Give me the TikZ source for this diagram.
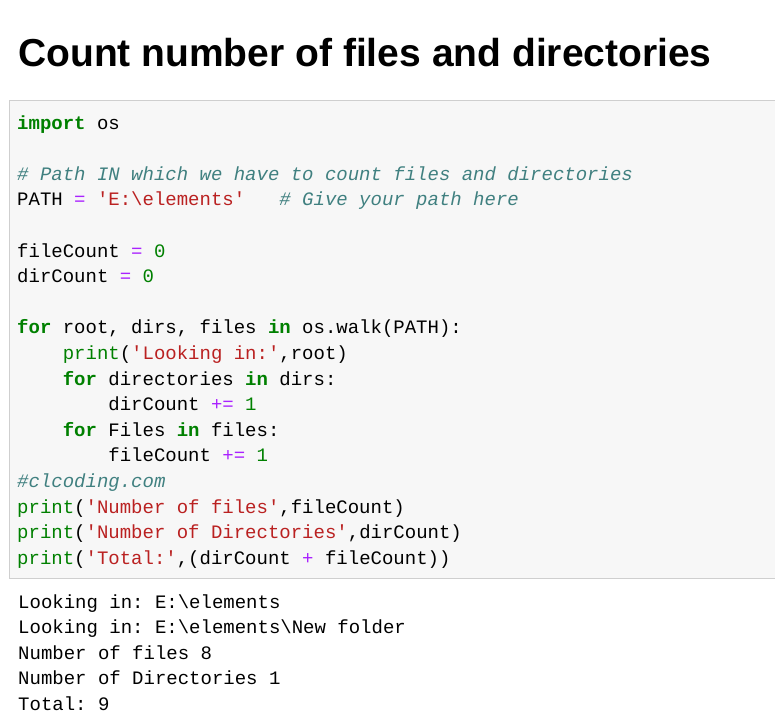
\documentclass[tikz,border=0pt]{standalone}
\usepackage{fontspec}
\setmainfont{Liberation Sans}
\setmonofont{Liberation Mono}
\definecolor{kw}{HTML}{008000}
\definecolor{st}{HTML}{BA2121}
\definecolor{cm}{HTML}{408080}
\definecolor{op}{HTML}{AA22FF}
\newcommand{\kw}[1]{\textcolor{kw}{\bfseries #1}}
\newcommand{\bi}[1]{\textcolor{kw}{#1}}
\newcommand{\st}[1]{\textcolor{st}{#1}}
\newcommand{\cm}[1]{\textcolor{cm}{\itshape #1}}
\newcommand{\op}[1]{\textcolor{op}{#1}}
\newcommand{\bs}{\textbackslash}
\newcommand{\ind}[1]{\hspace*{#1\dimexpr 11.4pt\relax}}
\begin{document}
\begin{tikzpicture}[x=1pt,y=-1pt,
  code/.style={anchor=base west,inner sep=0pt,font=\ttfamily\fontsize{19}{19}\selectfont}]
\useasboundingbox (0,0) rectangle (775,726);
\fill[white] (0,0) rectangle (775,726);
\node[anchor=base west,inner sep=0pt,font=\bfseries\fontsize{39}{39}\selectfont] (title) at (18,66) {Count number of files and directories};
\draw[fill=black!3,draw=black!19] (9.5,100.5) rectangle (780,578.5);
\node[code] (l0) at (17,129) {\kw{import} os};
\node[code] (l2) at (17,180.2) {\cm{\# Path IN which we have to count files and directories}};
\node[code] (l3) at (17,205.8) {PATH \op{=} \st{'E:\bs elements'}\ind{3}\cm{\# Give your path here}};
\node[code] (l5) at (17,257) {fileCount \op{=} \bi{0}};
\node[code] (l6) at (17,282.6) {dirCount \op{=} \bi{0}};
\node[code] (l8) at (17,333.8) {\kw{for} root, dirs, files \kw{in} os.walk(PATH):};
\node[code] (l9) at (17,359.4) {\ind{4}\bi{print}(\st{'Looking in:'},root)};
\node[code] (l10) at (17,385) {\ind{4}\kw{for} directories \kw{in} dirs:};
\node[code] (l11) at (17,410.6) {\ind{8}dirCount \op{+=} \bi{1}};
\node[code] (l12) at (17,436.2) {\ind{4}\kw{for} Files \kw{in} files:};
\node[code] (l13) at (17,461.8) {\ind{8}fileCount \op{+=} \bi{1}};
\node[code] (l14) at (17,487.4) {\cm{\#clcoding.com}};
\node[code] (l15) at (17,513) {\bi{print}(\st{'Number of files'},fileCount)};
\node[code] (l16) at (17,538.6) {\bi{print}(\st{'Number of Directories'},dirCount)};
\node[code] (l17) at (17,564.2) {\bi{print}(\st{'Total:'},(dirCount \op{+} fileCount))};
\node[code] (o1) at (18,608) {Looking in: E:\bs elements};
\node[code] (o2) at (18,633.6) {Looking in: E:\bs elements\bs New folder};
\node[code] (o3) at (18,659.2) {Number of files 8};
\node[code] (o4) at (18,684.8) {Number of Directories 1};
\node[code] (o5) at (18,710.4) {Total: 9};
\end{tikzpicture}
\end{document}
